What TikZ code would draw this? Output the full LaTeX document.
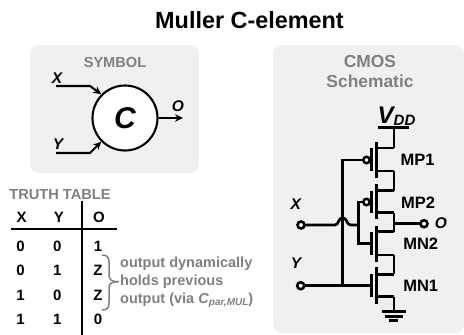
\documentclass[tikz,border=0pt]{standalone}
\usepackage{fontspec}
\setmainfont{Liberation Sans}
\usetikzlibrary{arrows.meta}
\definecolor{panelgray}{HTML}{F0F0F0}
\definecolor{textgray}{HTML}{808080}
\newcommand{\pxfont}[1]{\fontsize{#1}{#1}\selectfont\bfseries}
\tikzset{
    wire/.style={line width=2.7pt},
    thinwire/.style={line width=2.1pt},
    devbar/.style={line width=3pt},
    panel/.style={fill=panelgray,draw=none,rounded corners=9pt},
    head/.style={text=textgray,font=\pxfont{14.6},inner sep=0pt},
    sig/.style={font=\pxfont{15.5}\itshape,inner sep=0pt},
    cell/.style={font=\pxfont{15},inner sep=0pt},
    devname/.style={font=\pxfont{16.5},inner sep=0pt},
    note/.style={text=textgray,font=\pxfont{14.5},inner sep=0pt,anchor=west},
    term/.style={circle,draw=black,fill=white,line width=2.6pt,inner sep=0pt,minimum size=7pt},
    bubble/.style={circle,draw=black,fill=panelgray,line width=2.4pt,inner sep=0pt,minimum size=6.5pt},
    tip/.style={-{Stealth[length=8pt,width=7.5pt]}},
}
\begin{document}
\begin{tikzpicture}[x=1pt,y=-1pt]
\useasboundingbox (0,0) rectangle (464,335);
\node[font=\pxfont{23.4}] (title) at (249.5,20) {Muller C-element};

% symbol
\fill[panel] (30,45) rectangle (199,173);
\node[head] (symhead) at (115,62) {SYMBOL};
\node[circle,draw=black,fill=white,line width=2.1pt,minimum size=65pt,inner sep=0pt,font=\pxfont{30}\itshape] (celem) at (125,118) {C};
\coordinate (xin) at (56,86);
\coordinate (xbend) at (90,86);
\coordinate (yin) at (56,153);
\coordinate (ybend) at (90,153);
\coordinate (oend) at (183,118);
\draw[thinwire,tip] (xin)--(xbend)--(celem.135);
\draw[thinwire,tip] (yin)--(ybend)--(celem.225);
\draw[thinwire,tip] (celem.east)--(oend);
\node[sig] (xsym) at (57,78) {X};
\node[sig] (ysym) at (58,144) {Y};
\node[sig] (osym) at (178,106) {O};

% truth table
\node[head] (tthead) at (60,195) {TRUTH TABLE};
\coordinate (vtop) at (81.7,200.5);
\coordinate (vbot) at (81.7,335);
\coordinate (hleft) at (11,229);
\coordinate (hright) at (117,229);
\draw[thinwire] (vtop)--(vbot);
\draw[thinwire] (hleft)--(hright);
\node[cell] (hx) at (21.7,217) {X};
\node[cell] (hy) at (59,217) {Y};
\node[cell] (ho) at (99,217) {O};
\foreach \r/\yy/\a/\b/\o in {1/246/0/0/1,2/270/0/1/Z,3/295/1/0/Z,4/319/1/1/0}{
    \node[cell] (a\r) at (20.6,\yy) {\a};
    \node[cell] (b\r) at (57.3,\yy) {\b};
    \node[cell] (o\r) at (98,\yy) {\o};
}
\coordinate (brtop) at (102,255);
\coordinate (brtip) at (119,281.7);
\coordinate (brbot) at (102,310);
\draw[textgray,line width=1.5pt] (brtop) .. controls (107,255) and (109,257) .. (109,262)--(109,274) .. controls (109,279) and (110,281.7) .. (brtip);
\draw[textgray,line width=1.5pt] (brbot) .. controls (107,310) and (109,308) .. (109,303)--(109,289) .. controls (109,284) and (110,281.7) .. (brtip);
\node[note] (note1) at (120,264) {output dynamically};
\node[note] (note2) at (120,282) {holds previous};
\node[note] (note3) at (120,300) {output (via \textit{C}\raisebox{-2pt}{\fontsize{10}{10}\selectfont\textit{par,MUL}})};

% schematic
\fill[panel] (273,45) rectangle (464,333);
\node[text=textgray,font=\pxfont{17.4},inner sep=0pt] (cmoshead) at (370,62) {CMOS};
\node[text=textgray,font=\pxfont{17.4},inner sep=0pt] (schemhead) at (370,81) {Schematic};
\node[font=\pxfont{24}\itshape,inner sep=0pt,anchor=base west] (vdd) at (377.5,123) {V\raisebox{-2pt}{\fontsize{15}{15}\selectfont DD}};
\coordinate (railL) at (377.7,127.7);
\coordinate (railR) at (409.3,127.7);
\coordinate (rail) at (394,127.7);
\draw[devbar] (railL)--(railR);

% transistors: name / channel top, bottom / arm top, bottom / gate y
\foreach \m/\ct/\cb/\at/\ab/\gy in {mpa/141.7/177.7/148/171/160,mpb/184/219/190.7/212.7/202,mnb/226/261.7/231.7/255/243.3,mna/267/304/274.3/296.7/285.7}{
    \coordinate (\m d) at (394,\at);
    \coordinate (\m s) at (394,\ab);
    \coordinate (\m g) at (371,\gy);
    \draw[devbar] (376,\ct)--(376,\cb);
    \draw[devbar] (371,\at)--(371,\ab);
    \draw[wire] (376,\at)--(\m d);
    \draw[wire] (376,\ab)--(\m s);
}
\draw[wire] (rail)--(mpad);
\draw[wire] (mpas)--(mpbd);
\draw[wire] (mpbs)--(mnbd);
\draw[wire] (mnbs)--(mnad);

% gates and inputs
\node[bubble] (bpa) at (366.5,160) {};
\node[bubble] (bpb) at (366.5,202) {};
\coordinate (ytop) at (342.7,160);
\coordinate (ybot) at (342.7,285.7);
\coordinate (xtop) at (358.3,202);
\coordinate (xbot) at (358.3,243.3);
\coordinate (xjoin) at (358.3,225);
\coordinate (hopL) at (335,225);
\coordinate (hopR) at (350.7,225);
\coordinate (oout) at (394,223.7);
\draw[wire] (bpa)--(ytop)--(ybot);
\draw[wire] (bpb)--(xtop)--(xbot)--(mnbg);
\draw[wire] (301,225)--(hopL) .. controls (339,225) and (338,217.7) .. (342.7,217.7) .. controls (347,217.7) and (346.5,225) .. (hopR)--(xjoin);
\draw[wire] (300.7,285.7)--(mnag);
\draw[wire] (oout)--(424,223.7);
\node[term] (xterm) at (301,225) {};
\node[term] (yterm) at (300.7,285.7) {};
\node[term] (oterm) at (424,223.7) {};

% ground
\coordinate (gnd) at (394,311.7);
\draw[wire] (mnas)--(gnd);
\draw[devbar] (381.7,311.7)--(406,311.7);
\draw[devbar] (385,316)--(402.7,316);
\draw[devbar] (389,320)--(398,320);

\node[sig] (xlab) at (295.7,204) {X};
\node[sig] (ylab) at (296,263) {Y};
\node[sig] (olab) at (441,222.7) {O};
\node[devname] (mp1) at (417.7,160) {MP1};
\node[devname] (mp2) at (418,202.7) {MP2};
\node[devname] (mn2) at (420.7,244) {MN2};
\node[devname] (mn1) at (420.7,285.7) {MN1};
\end{tikzpicture}
\end{document}
